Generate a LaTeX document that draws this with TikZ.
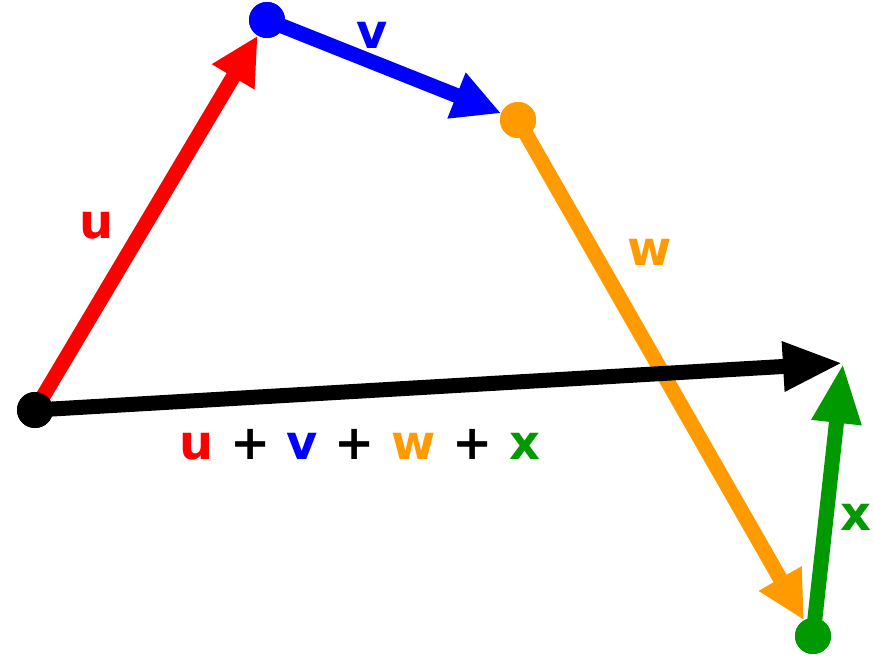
\documentclass[tikz,border=0pt]{standalone}
\usepackage{fontspec}
\setmainfont{DejaVu Sans}
\usetikzlibrary{arrows.meta}
\definecolor{vred}{RGB}{255,0,0}
\definecolor{vblue}{RGB}{0,0,255}
\definecolor{vorange}{RGB}{255,154,0}
\definecolor{vgreen}{RGB}{0,153,0}
\tikzset{
  dot/.style={circle, fill=#1, draw=none, minimum size=36pt, inner sep=0pt},
  vec/.style={line width=15pt, draw=#1, -{Triangle[length=48pt,width=46pt]}, shorten <=-17pt},
  longvec/.style={line width=15pt, draw=#1, -{Triangle[length=60pt,width=46pt]}},
  lab/.style={anchor=base, text=#1, font=\fontsize{48}{50}\selectfont\bfseries, inner sep=0pt}
}
\begin{document}
\begin{tikzpicture}[x=1pt,y=-1pt]
\useasboundingbox (0,0) rectangle (874,657);
% dots (positions)
\node[dot=black] (A) at (35,410) {};
\node[dot=vblue] (B) at (267,20) {};
\node[dot=vorange] (C) at (518,120) {};
\node[dot=vgreen] (D) at (813,636) {};
\coordinate (E) at (843,363);
% vectors
\draw[vec=vred] (A) -- (B);
\draw[vec=vblue] (B) -- (C);
\draw[vec=vorange] (C) -- (D);
\draw[longvec=black, shorten <=-17pt] (A) -- (E);
\draw[longvec=vgreen, shorten <=-17pt] (D) -- (E);
% dots on top
\node[dot=black] at (A) {};
\node[dot=vblue] at (B) {};
\node[dot=vorange] at (C) {};
\node[dot=vgreen] at (D) {};
% labels
\node[lab=vred] (lu) at (97,238) {u};
\node[lab=vblue] (lv) at (372,48) {v};
\node[lab=vorange] (lw) at (650,265) {w};
\node[lab=vgreen] (lx) at (856,530) {x};
\node[lab=black] (sum) at (360,459) {\textcolor{vred}{u} + \textcolor{vblue}{v} + \textcolor{vorange}{w} + \textcolor{vgreen}{x}};
\end{tikzpicture}
\end{document}
